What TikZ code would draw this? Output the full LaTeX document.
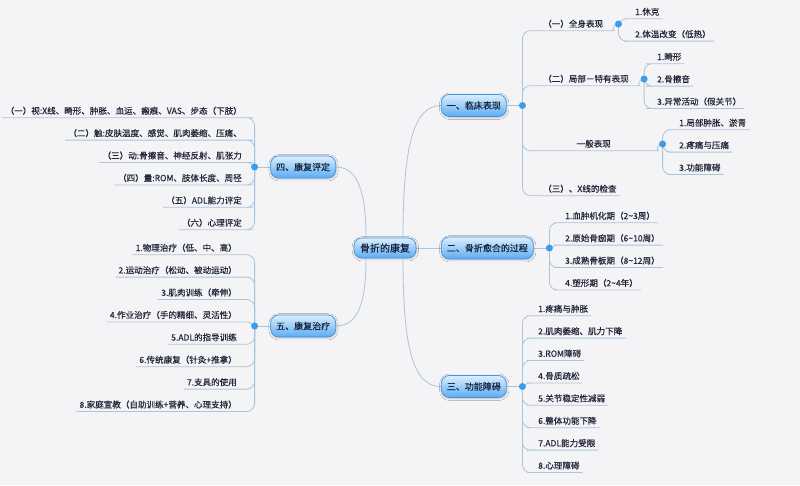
\documentclass[tikz,border=0pt]{standalone}
\usepackage{fontspec}
\setmainfont{Noto Sans CJK SC}[FakeBold=0.4]
\usepackage{xcolor}
\usepackage{tikz}
\usetikzlibrary{positioning,backgrounds,shadows.blur}
\definecolor{cBg}{HTML}{F4F4F6}
\definecolor{cLine}{HTML}{A9C5DC}
\definecolor{cDot}{HTML}{3D9CEA}
\definecolor{cEdge}{HTML}{4393E2}
\definecolor{cTop}{HTML}{DCEEFD}
\definecolor{cBot}{HTML}{5AACF2}
\definecolor{cInk}{HTML}{16243F}
\definecolor{cText}{HTML}{23263A}
\tikzset{
  topic/.style = {rectangle, rounded corners=8pt, draw=cEdge, line width=0.7pt,
                  top color=cTop, bottom color=cBot, text=cInk, minimum height=22pt,
                  inner xsep=5.5pt, inner ysep=0pt, font=\fontsize{9}{10}\selectfont,
                  blur shadow={shadow xshift=0.4pt, shadow yshift=-0.8pt,
                               shadow blur steps=4, shadow opacity=25}},
  core/.style  = {topic, minimum height=20pt, inner xsep=6pt, font=\fontsize{10}{11}\selectfont},
  txt/.style   = {inner xsep=3pt, inner ysep=1.5pt, text height=8pt, text depth=2pt,
                  text=cText, font=\fontsize{8.55}{10}\selectfont},
  knot/.style  = {circle, fill=cDot, inner sep=0pt, minimum size=7pt},
  ln/.style    = {draw=cLine, line width=0.8pt, rounded corners=8pt},
}

\begin{document}
\begin{tikzpicture}[x=1pt, y=1pt, node distance=9pt]
  \useasboundingbox (0,0) rectangle (800,-485);

  \node[core] (r) at (385,-248) {骨折的康复};
  \node[topic, anchor=west] (b1) at (441,-105.5) {一、临床表现};
  \node[topic, anchor=west] (b2) at (441,-248) {二、骨折愈合的过程};
  \node[topic, anchor=west] (b3) at (441,-386.5) {三、功能障碍};
  \node[topic, anchor=east] (b4) at (336,-167) {四、康复评定};
  \node[topic, anchor=east] (b5) at (336,-326) {五、康复治疗};

  \node[knot, right=12pt of b1] (d1) {};
  \node[knot, right=12pt of b2] (d2) {};
  \node[knot, right=12pt of b3] (d3) {};
  \node[knot, left=12pt of b4] (d4) {};
  \node[knot, left=12pt of b5] (d5) {};

  \node[txt, anchor=west] (a1) at (540,-24) {（一）全身表现};
  \node[txt, anchor=west] (a2) at (540,-79) {（二）局部－特有表现};
  \node[txt, anchor=west, minimum width=113pt] (a3) at (537,-144) {一般表现};
  \node[txt, anchor=west] (a4) at (540,-189) {（三）、X线的检查};
  \node[knot, right=8.5pt of a1] (e1) {};
  \node[knot, right=8.5pt of a2] (e2) {};
  \node[knot, right=8.5pt of a3] (e3) {};

  \node[txt, anchor=west] (a11) at (632,-12) {1.休克};
  \node[txt, below=of a11.south west, anchor=north west] (a12) {2.体温改变（低热）};
  \node[txt, anchor=west] (a21) at (654,-57) {1.畸形};
  \node[txt, below=of a21.south west, anchor=north west] (a22) {2.骨擦音};
  \node[txt, below=of a22.south west, anchor=north west] (a23) {3.异常活动（假关节）};
  \node[txt, anchor=west] (a31) at (676,-123) {1.局部肿胀、淤青};
  \node[txt, below=of a31.south west, anchor=north west] (a32) {2.疼痛与压痛};
  \node[txt, below=of a32.south west, anchor=north west] (a33) {3.功能障碍};

  \node[txt, anchor=west] (h1) at (562,-216) {1.血肿机化期（2\textasciitilde3周）};
  \node[txt, below=of h1.south west, anchor=north west] (h2) {2.原始骨痂期（6\textasciitilde10周）};
  \node[txt, below=of h2.south west, anchor=north west] (h3) {3.成熟骨板期（8\textasciitilde12周）};
  \node[txt, below=of h3.south west, anchor=north west] (h4) {4.塑形期（2\textasciitilde4年）};

  \node[txt, anchor=west] (f1) at (535,-309) {1.疼痛与肿胀};
  \node[txt, below=of f1.south west, anchor=north west] (f2) {2.肌肉萎缩、肌力下降};
  \node[txt, below=of f2.south west, anchor=north west] (f3) {3.ROM障碍};
  \node[txt, below=of f3.south west, anchor=north west] (f4) {4.骨质疏松};
  \node[txt, below=of f4.south west, anchor=north west] (f5) {5.关节稳定性减弱};
  \node[txt, below=of f5.south west, anchor=north west] (f6) {6.整体功能下降};
  \node[txt, below=of f6.south west, anchor=north west] (f7) {7.ADL能力受限};
  \node[txt, below=of f7.south west, anchor=north west] (f8) {8.心理障碍};

  \node[txt, anchor=east] (p1) at (245,-111) {（一）视:X线、畸形、肿胀、血运、瘢痕、VAS、步态（下肢）};
  \node[txt, below=of p1.south east, anchor=north east] (p2) {（二）触:皮肤温度、感觉、肌肉萎缩、压痛、};
  \node[txt, below=of p2.south east, anchor=north east] (p3) {（三）动:骨擦音、神经反射、肌张力};
  \node[txt, below=of p3.south east, anchor=north east] (p4) {（四）量:ROM、肢体长度、周径};
  \node[txt, below=of p4.south east, anchor=north east] (p5) {（五）ADL能力评定};
  \node[txt, below=of p5.south east, anchor=north east] (p6) {（六）心理评定};

  \node[txt, anchor=east] (t1) at (240,-248) {1.物理治疗（低、中、高）};
  \node[txt, below=of t1.south east, anchor=north east] (t2) {2.运动治疗（松动、被动运动）};
  \node[txt, below=of t2.south east, anchor=north east] (t3) {3.肌肉训练（牵伸）};
  \node[txt, below=of t3.south east, anchor=north east] (t4) {4.作业治疗（手的精细、灵活性）};
  \node[txt, below=of t4.south east, anchor=north east] (t5) {5.ADL的指导训练};
  \node[txt, below=of t5.south east, anchor=north east] (t6) {6.传统康复（针灸+推拿）};
  \node[txt, below=of t6.south east, anchor=north east] (t7) {7.支具的使用};
  \node[txt, below=of t7.south east, anchor=north east] (t8) {8.家庭宣教（自助训练+营养、心理支持）};

  \begin{scope}[on background layer]
  \fill[cBg] (0,0) rectangle (800,-485);
  \draw[ln] (r.east) -- (b2.west);
  \draw[ln] ([xshift=18pt]r.north) .. controls +(0,90) and +(-28,0) .. (b1.west);
  \draw[ln] ([xshift=18pt]r.south) .. controls +(0,-90) and +(-28,0) .. (b3.west);
  \draw[ln] ([xshift=-19pt]r.north) .. controls +(0,45) and +(22,0) .. (b4.east);
  \draw[ln] ([xshift=-19pt]r.south) .. controls +(0,-45) and +(22,0) .. (b5.east);
  \draw[ln] (b1.east) -- (d1.center);
  \draw[ln] (b2.east) -- (d2.center);
  \draw[ln] (b3.east) -- (d3.center);
  \draw[ln] (b4.west) -- (d4.center);
  \draw[ln] (b5.west) -- (d5.center);

  \draw[ln] (d1.center) |- (a1.south west) -- (a1.south east) to[out=0,in=180] (e1.center);
  \draw[ln] (d1.center) |- (a2.south west) -- (a2.south east) to[out=0,in=180] (e2.center);
  \draw[ln] (d1.center) |- (a3.south west) -- (a3.south east) to[out=0,in=180] (e3.center);
  \draw[ln] (d1.center) |- (a4.south west) -- (a4.south east);
  \draw[ln] (e1.center) |- (a11.south west) -- (a11.south east);
  \draw[ln] (e1.center) |- (a12.south west) -- (a12.south east);
  \draw[ln] (e2.center) |- (a21.south west) -- (a21.south east);
  \draw[ln] (e2.center) |- (a22.south west) -- (a22.south east);
  \draw[ln] (e2.center) |- (a23.south west) -- (a23.south east);
  \draw[ln] (e3.center) |- (a31.south west) -- (a31.south east);
  \draw[ln] (e3.center) |- (a32.south west) -- (a32.south east);
  \draw[ln] (e3.center) |- (a33.south west) -- (a33.south east);

  \draw[ln] (d2.center) |- (h1.south west) -- (h1.south east);
  \draw[ln] (d2.center) |- (h2.south west) -- (h2.south east);
  \draw[ln] (d2.center) |- (h3.south west) -- (h3.south east);
  \draw[ln] (d2.center) |- (h4.south west) -- (h4.south east);

  \draw[ln] (d3.center) |- (f1.south west) -- (f1.south east);
  \draw[ln] (d3.center) |- (f2.south west) -- (f2.south east);
  \draw[ln] (d3.center) |- (f3.south west) -- (f3.south east);
  \draw[ln] (d3.center) |- (f4.south west) -- (f4.south east);
  \draw[ln] (d3.center) |- (f5.south west) -- (f5.south east);
  \draw[ln] (d3.center) |- (f6.south west) -- (f6.south east);
  \draw[ln] (d3.center) |- (f7.south west) -- (f7.south east);
  \draw[ln] (d3.center) |- (f8.south west) -- (f8.south east);

  \draw[ln] (d4.center) |- (p1.south east) -- (p1.south west);
  \draw[ln] (d4.center) |- (p2.south east) -- (p2.south west);
  \draw[ln] (d4.center) |- (p3.south east) -- (p3.south west);
  \draw[ln] (d4.center) |- (p4.south east) -- (p4.south west);
  \draw[ln] (d4.center) |- (p5.south east) -- (p5.south west);
  \draw[ln] (d4.center) |- (p6.south east) -- (p6.south west);

  \draw[ln] (d5.center) |- (t1.south east) -- (t1.south west);
  \draw[ln] (d5.center) |- (t2.south east) -- (t2.south west);
  \draw[ln] (d5.center) |- (t3.south east) -- (t3.south west);
  \draw[ln] (d5.center) |- (t4.south east) -- (t4.south west);
  \draw[ln] (d5.center) |- (t5.south east) -- (t5.south west);
  \draw[ln] (d5.center) |- (t6.south east) -- (t6.south west);
  \draw[ln] (d5.center) |- (t7.south east) -- (t7.south west);
  \draw[ln] (d5.center) |- (t8.south east) -- (t8.south west);
  \end{scope}
\end{tikzpicture}
\end{document}
